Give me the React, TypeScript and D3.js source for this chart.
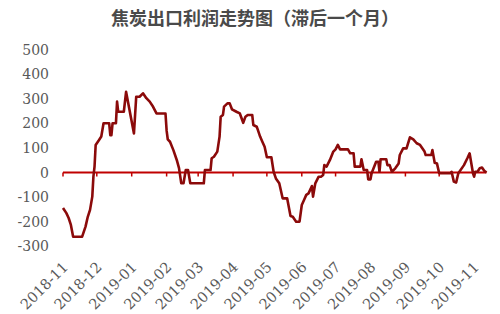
import React from "react";
import * as d3 from "d3";

const TITLE = "焦炭出口利润走势图（滞后一个月）";

const dates: string[] = [
  "2018-11-01","2018-11-04","2018-11-06","2018-11-08","2018-11-10","2018-11-18","2018-11-21","2018-11-23","2018-11-25","2018-11-27","2018-11-28","2018-11-29","2018-11-30",
  "2018-12-03","2018-12-05","2018-12-07","2018-12-12","2018-12-13","2018-12-14","2018-12-15","2018-12-18","2018-12-19","2018-12-20","2018-12-25","2018-12-27",
  "2019-01-03","2019-01-05","2019-01-08","2019-01-11","2019-01-14","2019-01-17","2019-01-20","2019-01-23","2019-01-31",
  "2019-02-01","2019-02-02","2019-02-04","2019-02-07","2019-02-10","2019-02-12","2019-02-14","2019-02-16","2019-02-18","2019-02-20","2019-02-22",
  "2019-03-06","2019-03-07","2019-03-12","2019-03-13","2019-03-15","2019-03-18","2019-03-20","2019-03-21","2019-03-23","2019-03-24","2019-03-27","2019-03-29","2019-03-31",
  "2019-04-04","2019-04-07","2019-04-10","2019-04-12","2019-04-14","2019-04-18","2019-04-19","2019-04-22","2019-04-23","2019-04-25","2019-04-27","2019-04-29",
  "2019-05-01","2019-05-05","2019-05-07","2019-05-09","2019-05-12","2019-05-15","2019-05-19","2019-05-22","2019-05-24","2019-05-27","2019-05-30",
  "2019-06-01","2019-06-03","2019-06-05","2019-06-07","2019-06-10","2019-06-11","2019-06-13","2019-06-16","2019-06-18","2019-06-20","2019-06-21","2019-06-23","2019-06-26","2019-06-29",
  "2019-07-01","2019-07-03","2019-07-05","2019-07-12","2019-07-14","2019-07-17","2019-07-18","2019-07-23","2019-07-24","2019-07-26","2019-07-29","2019-07-30",
  "2019-08-01","2019-08-02","2019-08-06","2019-08-08","2019-08-09","2019-08-10","2019-08-15","2019-08-16","2019-08-18","2019-08-20","2019-08-23","2019-08-26","2019-08-27","2019-08-30",
  "2019-09-02","2019-09-05","2019-09-08","2019-09-11","2019-09-14","2019-09-18","2019-09-19","2019-09-24","2019-09-25","2019-09-27","2019-09-29",
  "2019-10-01","2019-10-11","2019-10-12","2019-10-14","2019-10-16","2019-10-18","2019-10-23","2019-10-26","2019-10-28","2019-10-31",
  "2019-11-01","2019-11-02","2019-11-04","2019-11-06","2019-11-08","2019-11-10","2019-11-12",
];

const profit: number[] = [
  -144,-165,-185,-213,-261,-261,-220,-180,-152,-98,-17,24,112,
  132,146,200,200,152,152,200,200,288,247,247,328,
  159,308,308,322,302,288,267,240,240,
  170,135,125,91,51,18,-44,-44,10,10,-44,
  -44,10,10,58,64,85,146,227,234,268,281,281,257,
  247,240,202,227,234,234,193,186,173,146,125,105,
  62,62,3,-24,-44,-105,-105,-177,-180,-200,-200,
  -132,-112,-91,-85,-55,-98,-44,-17,-17,-10,30,24,51,85,
  94,112,94,94,78,78,24,24,54,10,10,-28,
  -28,-3,44,44,3,54,54,30,30,3,17,37,71,98,
  98,143,135,119,112,85,71,71,91,40,37,
  -3,-3,3,-37,-41,-3,30,58,78,-3,
  -17,3,3,17,20,7,0,
];

const yTicks: number[] = [-300, -200, -100, 0, 100, 200, 300, 400, 500];
const xDomain: string[] = ["2018-11-01", "2019-11-12"];

const parse = d3.timeParse("%Y-%m-%d");
const fmt = d3.timeFormat("%Y-%m");

export default function App() {
  const W = 500, H = 314;
  const x = d3.scaleTime()
    .domain([parse(xDomain[0])!, parse(xDomain[1])!])
    .range([63, 486.5]);
  const y = d3.scaleLinear().domain([-300, 500]).range([246.3, 49.5]);
  const data = dates.map((d, i) => ({ date: parse(d)!, v: profit[i] }));
  const line = d3.line<{ date: Date; v: number }>()
    .x(d => x(d.date))
    .y(d => y(d.v));
  const monthTicks = d3.timeMonth.range(parse("2018-11-01")!, parse("2019-11-02")!);
  const y0 = y(0);
  const axisColor = "#c00000";
  const labelFont = "'DejaVu Serif', serif";

  return (
    <svg width={W} height={H} style={{ position: "absolute", left: 0, top: 0, background: "#fff" }}>
      <text x={255} y={25} textAnchor="middle" fontFamily="'Noto Sans CJK SC', sans-serif"
        fontSize={18} fontWeight="bold" fill="#4a4a4a">{TITLE}</text>
      {yTicks.map(t => (
        <text key={t} x={49} y={y(t)} dy="0.36em" textAnchor="end" fontFamily={labelFont}
          fontSize={14} fill="#595959">{t}</text>
      ))}
      <line x1={x.range()[0]} x2={x.range()[1]} y1={y0} y2={y0} stroke={axisColor} strokeWidth={2} />
      {monthTicks.map((m, i) => (
        <line key={i} x1={x(m)} x2={x(m)} y1={y0} y2={y0 + 4} stroke={axisColor} strokeWidth={1.5} />
      ))}
      <path d={line(data) || ""} fill="none" stroke="#8b0a0a" strokeWidth={2.6} strokeLinejoin="round" />
      {monthTicks.map((m, i) => (
        <text key={i} transform={`translate(${x(m) + 6},${268}) rotate(-45)`} textAnchor="end"
          fontFamily={labelFont} fontSize={14.5} fill="#595959">{fmt(m)}</text>
      ))}
    </svg>
  );
}
